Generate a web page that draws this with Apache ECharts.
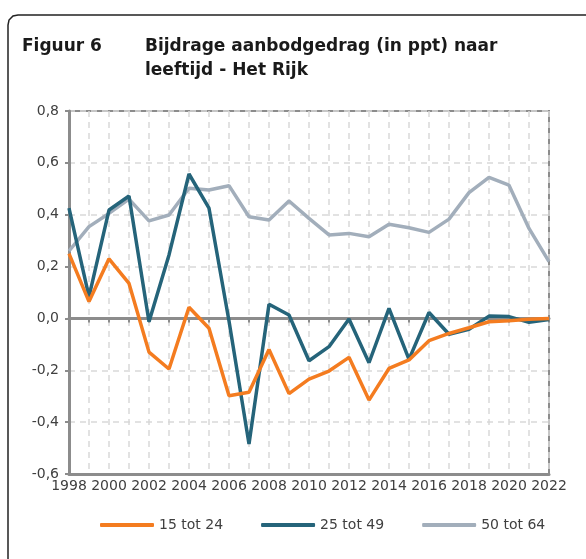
<!DOCTYPE html>
<html>
<head>
<meta charset="utf-8">
<script src="https://cdn.jsdelivr.net/npm/echarts@6/dist/echarts.min.js"></script>
<style>
  html, body { margin: 0; padding: 0; background: #fff; overflow: hidden; }
  #main { width: 586px; height: 559px; }
</style>
</head>
<body>
<div id="main"></div>
<script>
// jaren 1998 t/m 2022
var years = [1998, 1999, 2000, 2001, 2002, 2003, 2004, 2005, 2006, 2007, 2008, 2009, 2010,
             2011, 2012, 2013, 2014, 2015, 2016, 2017, 2018, 2019, 2020, 2021, 2022];
var jong = [0.25, 0.065, 0.23, 0.135, -0.13, -0.195, 0.043, -0.038, -0.298, -0.285, -0.12, -0.29, -0.234,
            -0.203, -0.15, -0.315, -0.193, -0.16, -0.086, -0.058, -0.036, -0.013, -0.009, -0.003, 0.0];
var midden = [0.425, 0.084, 0.418, 0.472, -0.013, 0.245, 0.557, 0.425, -0.01, -0.484, 0.055, 0.013, -0.163,
              -0.109, -0.002, -0.171, 0.039, -0.158, 0.023, -0.061, -0.042, 0.009, 0.007, -0.015, -0.004];
var oud = [0.26, 0.354, 0.405, 0.46, 0.376, 0.399, 0.502, 0.495, 0.512, 0.392, 0.38, 0.453, 0.386,
           0.322, 0.328, 0.315, 0.363, 0.35, 0.332, 0.383, 0.485, 0.544, 0.514, 0.347, 0.219];
var namen = ['15 tot 24', '25 tot 49', '50 tot 64'];
var kleuren = ['#f47c20', '#25647a', '#a2aebb'];

function paren(arr) {
    return years.map(function (j, i) { return [j, arr[i]]; });
}

var chart = echarts.init(document.getElementById('main'));
var font = 'DejaVu Sans';
var titelFont = 'bold 17px "DejaVu Sans"';

var option = {
    animation: false,
    textStyle: { fontFamily: font, color: '#404040' },
    graphic: [
        {
            // kader, loopt rechts en onder buiten beeld
            type: 'polyline',
            shape: { points: [[8, 559], [8, 25], [9, 20], [13, 16], [18, 15], [586, 15]] },
            style: { fill: 'none', stroke: '#222', lineWidth: 1.5 }
        },
        {
            type: 'text', x: 22, y: 47,
            style: { text: 'Figuur 6', font: titelFont, fill: '#1a1a1a', verticalAlign: 'middle' }
        },
        {
            type: 'text', x: 145, y: 47,
            style: { text: 'Bijdrage aanbodgedrag (in ppt) naar', font: titelFont, fill: '#1a1a1a', verticalAlign: 'middle' }
        },
        {
            type: 'text', x: 145, y: 71,
            style: { text: 'leeftijd - Het Rijk', font: titelFont, fill: '#1a1a1a', verticalAlign: 'middle' }
        }
    ],
    legend: {
        left: 95, top: 513,
        itemWidth: 54, itemHeight: 4, icon: 'roundRect',
        itemGap: 38,
        textStyle: { fontSize: 14, color: '#404040', fontFamily: font },
        data: namen
    },
    grid: { left: 69, right: 37, top: 111, bottom: 85, show: true, borderColor: '#8c8c8c', borderWidth: 2 },
    xAxis: [
        {
            type: 'value', min: 1998, max: 2022, interval: 2,
            axisLine: { onZero: false, lineStyle: { color: '#8c8c8c', width: 3 } },
            axisTick: { show: false },
            axisLabel: { fontSize: 14, color: '#404040', margin: 5, formatter: function (v) { return String(v); } },
            splitLine: { show: false }
        },
        {
            type: 'value', min: 1998, max: 2022, interval: 1, position: 'top',
            axisLine: { onZero: true, lineStyle: { color: '#8c8c8c', width: 3 } },
            axisTick: { show: true, inside: true, length: 4, lineStyle: { color: '#8c8c8c', width: 2 } },
            axisLabel: { show: false },
            splitLine: { show: true, lineStyle: { color: '#d9d9d9', type: [6, 5], width: 1.5 } }
        }
    ],
    yAxis: {
        type: 'value', min: -0.6, max: 0.8, interval: 0.2,
        axisLine: { show: true, lineStyle: { color: '#8c8c8c', width: 3 } },
        axisTick: { show: true, length: 4, lineStyle: { color: '#8c8c8c', width: 2 } },
        axisLabel: { fontSize: 14, color: '#404040', margin: 10,
                     formatter: function (v) { return v.toFixed(1).replace('.', ','); } },
        splitLine: { show: true, lineStyle: { color: '#d9d9d9', type: [6, 5], width: 1.5 } }
    },
    series: [jong, midden, oud].map(function (d, i) {
        return {
            name: namen[i], type: 'line', data: paren(d), xAxisIndex: 0,
            showSymbol: false, symbol: 'none',
            lineStyle: { color: kleuren[i], width: 3.5 },
            itemStyle: { color: kleuren[i] },
            z: 5 - i
        };
    })
};
chart.setOption(option);
</script>
</body>
</html>
